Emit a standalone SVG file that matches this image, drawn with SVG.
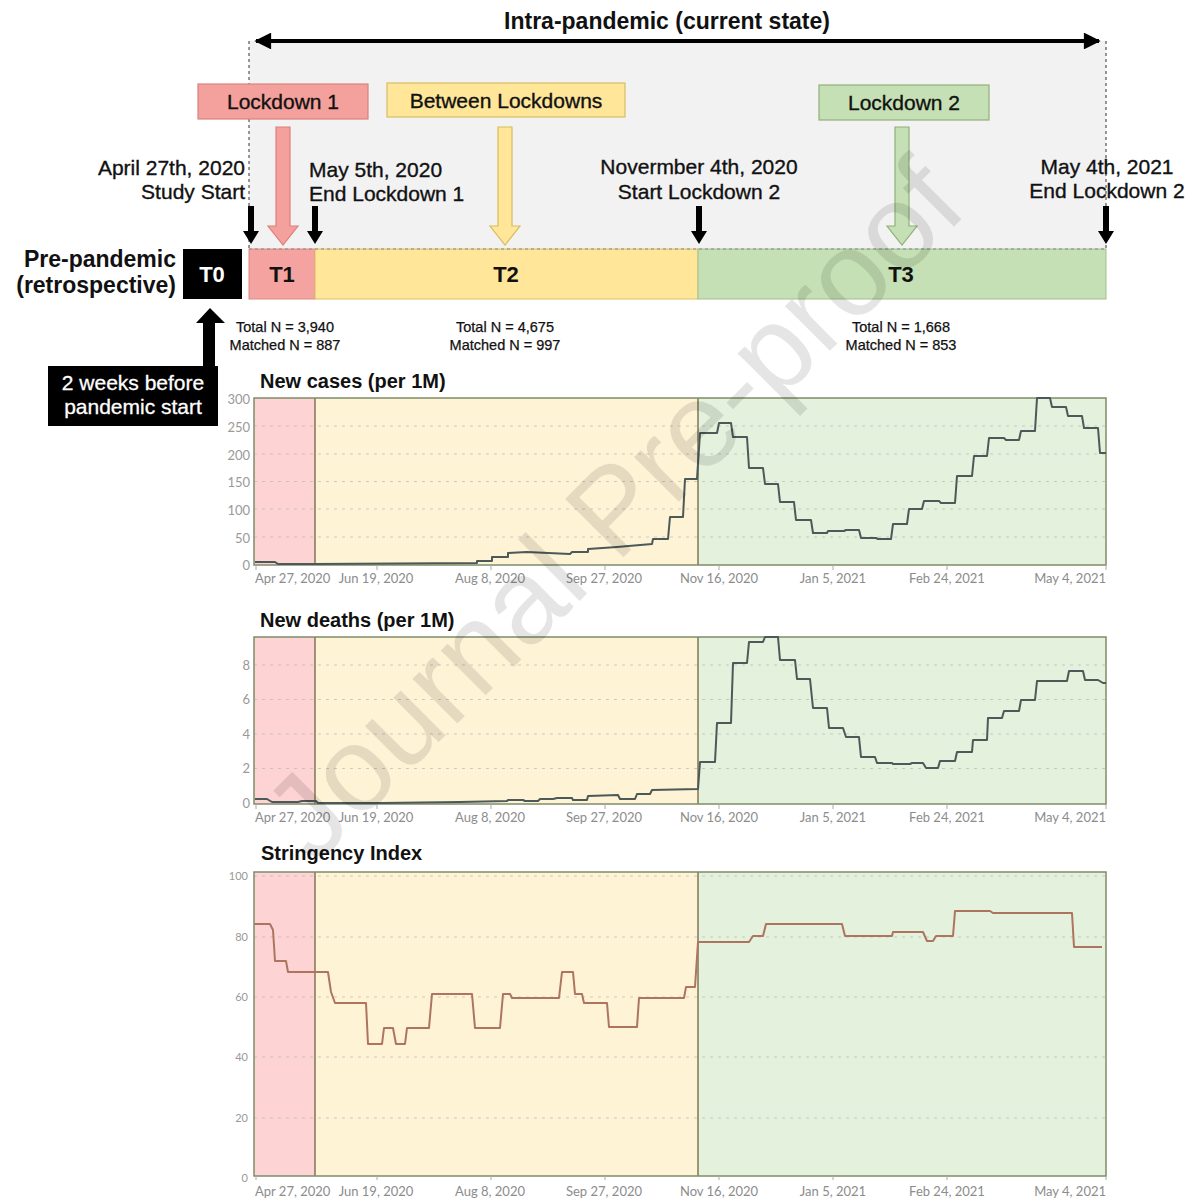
<svg xmlns="http://www.w3.org/2000/svg" width="1195" height="1198" viewBox="0 0 1195 1198">
<style>
  .t { font-family: "Liberation Sans", Arial, sans-serif; fill: #111; }
  .b { font-weight: bold; }
  .lbl { font-size: 21px; stroke: #111; stroke-width: 0.35px; }
  .n { font-size: 14.5px; stroke: #111; stroke-width: 0.25px; }
  .ax { font-family: Lato, "Liberation Sans", sans-serif; font-size: 13px; fill: #8c8c8c; }
  .ay { font-family: Lato, "Liberation Sans", sans-serif; font-size: 13px; fill: #999; text-anchor: end; }
  .ay2 { font-family: Lato, "Liberation Sans", sans-serif; font-size: 11px; fill: #999; text-anchor: end; }
  .grid { stroke: #b9b9b9; stroke-width: 1; stroke-dasharray: 3 5; opacity: 0.7; }
  .tick { stroke: #aaa; stroke-width: 1; }
  .pink { fill: #fdd3d4; }
  .yel { fill: #fff3d6; }
  .grn { fill: #e4f1dd; }
  .frame { fill: none; stroke: #7f8c68; stroke-width: 1.5; }
  .sep { stroke: #6e6440; stroke-width: 1.3; }
  .series { fill: none; stroke: #4b5959; stroke-width: 2; stroke-linejoin: round; }
  .str { fill: none; stroke: #ad7560; stroke-width: 2; stroke-linejoin: round; }
  .blk { fill: #000; }
  .wt { font-family: "Liberation Sans", Arial, sans-serif; fill: #fff; stroke: #fff; stroke-width: 0.3px; font-size: 21px; text-anchor: middle; }
</style>
<defs>
  <marker id="ah" viewBox="0 0 10 10" refX="9" refY="5" markerWidth="5" markerHeight="4.2" orient="auto-start-reverse" markerUnits="strokeWidth">
    <path d="M0,0 L10,5 L0,10 z" fill="#000"/>
  </marker>
</defs>
<rect width="1195" height="1198" fill="#fff"/>

<g id="intra-panel">
  <rect x="249" y="41" width="857" height="208" fill="#f2f2f2"/>
  <line x1="249" y1="41" x2="249" y2="249" stroke="#333" stroke-width="1" stroke-dasharray="3 3"/>
  <line x1="1106" y1="41" x2="1106" y2="249" stroke="#333" stroke-width="1" stroke-dasharray="3 3"/>
</g>

<g id="title">
  <text class="t b" x="667" y="29" font-size="23" text-anchor="middle">Intra-pandemic (current state)</text>
</g>

<g id="lockdown1-box">
  <rect x="198" y="84" width="170" height="35" fill="#f4a09c" stroke="#d9837f" stroke-width="1.2"/>
  <text class="t lbl" x="283" y="108.5" text-anchor="middle">Lockdown 1</text>
</g>
<g id="between-box">
  <rect x="387" y="83" width="238" height="34" fill="#ffe699" stroke="#d8bc63" stroke-width="1.2"/>
  <text class="t lbl" x="506" y="107.5" text-anchor="middle">Between Lockdowns</text>
</g>
<g id="lockdown2-box">
  <rect x="819" y="85" width="170" height="35" fill="#c5e0b4" stroke="#8fb07a" stroke-width="1.2"/>
  <text class="t lbl" x="904" y="110" text-anchor="middle">Lockdown 2</text>
</g>

<g id="date-labels">
  <text class="t lbl" x="245" y="175" text-anchor="end">April 27th, 2020</text>
  <text class="t lbl" x="245" y="199" text-anchor="end">Study Start</text>
  <text class="t lbl" x="309" y="177">May 5th, 2020</text>
  <text class="t lbl" x="309" y="201">End Lockdown 1</text>
  <text class="t lbl" x="699" y="174" text-anchor="middle">Novermber 4th, 2020</text>
  <text class="t lbl" x="699" y="199" text-anchor="middle">Start Lockdown 2</text>
  <text class="t lbl" x="1107" y="174" text-anchor="middle">May 4th, 2021</text>
  <text class="t lbl" x="1107" y="198" text-anchor="middle">End Lockdown 2</text>
</g>

<g id="timeline">
  <g id="T1">
    <rect x="249" y="249" width="66" height="50" fill="#f4a3a0" stroke="#dc8a86" stroke-width="1"/>
    <text class="t b" x="282" y="282" font-size="22" text-anchor="middle">T1</text>
  </g>
  <g id="T2">
    <rect x="315" y="249" width="383" height="50" fill="#ffe699" stroke="#dcc06a" stroke-width="1"/>
    <text class="t b" x="506" y="282" font-size="22" text-anchor="middle">T2</text>
  </g>
  <g id="T3">
    <rect x="698" y="249" width="408" height="50" fill="#c5e0b4" stroke="#a2c090" stroke-width="1"/>
    <text class="t b" x="901" y="282" font-size="22" text-anchor="middle">T3</text>
  </g>
  <line x1="249" y1="249" x2="1106" y2="249" stroke="#888" stroke-width="1" stroke-dasharray="3 3"/>
</g>

<g id="T0">
  <rect x="183" y="249" width="59" height="50" fill="#000"/>
  <text x="212" y="282" font-size="22" font-weight="bold" text-anchor="middle" fill="#fff" font-family="Liberation Sans, Arial, sans-serif">T0</text>
</g>
<g id="pre-pandemic-label">
  <text class="t b" x="176" y="267" font-size="23" text-anchor="end">Pre-pandemic</text>
  <text class="t b" x="176" y="293" font-size="23" text-anchor="end">(retrospective)</text>
</g>

<g id="two-weeks-box">
  <rect x="48" y="366" width="170" height="60" fill="#000"/>
  <text class="wt" x="133" y="390">2 weeks before</text>
  <text class="wt" x="133" y="414">pandemic start</text>
</g>

<g id="sample-sizes">
  <text class="t n" x="285" y="332" text-anchor="middle">Total N = 3,940</text>
  <text class="t n" x="285" y="350" text-anchor="middle">Matched N = 887</text>
  <text class="t n" x="505" y="332" text-anchor="middle">Total N = 4,675</text>
  <text class="t n" x="505" y="350" text-anchor="middle">Matched N = 997</text>
  <text class="t n" x="901" y="332" text-anchor="middle">Total N = 1,668</text>
  <text class="t n" x="901" y="350" text-anchor="middle">Matched N = 853</text>
</g>

<g id="connectors">
  <line x1="256" y1="41" x2="1099" y2="41" stroke="#000" stroke-width="4" marker-start="url(#ah)" marker-end="url(#ah)"/>
  <polygon points="276,127 290,127 290,226 298,226 283,245 268,226 276,226" fill="#f4a09c" stroke="#e07f7b" stroke-width="1.2"/>
  <polygon points="498,127 512,127 512,226 520,226 505,245 490,226 498,226" fill="#ffe699" stroke="#d9bb5c" stroke-width="1.2"/>
  <polygon points="895,127 909,127 909,226 917,226 902,245 887,226 895,226" fill="#c5e0b4" stroke="#8fb07a" stroke-width="1.2"/>
  <polygon class="blk" points="248,206 254,206 254,231 259,231 251,244 243,231 248,231"/>
  <polygon class="blk" points="312,206 318,206 318,231 323,231 315,244 307,231 312,231"/>
  <polygon class="blk" points="696,206 702,206 702,231 707,231 699,244 691,231 696,231"/>
  <polygon class="blk" points="1103,206 1109,206 1109,231 1114,231 1106,244 1098,231 1103,231"/>
  <polygon class="blk" points="210,308 225,323 215,323 215,367 203,367 203,323 196,323"/>
</g>

<g id="chart-cases">
  <text class="t b" x="260" y="388" font-size="20">New cases (per 1M)</text>
  <rect class="pink" x="254" y="398" width="61" height="167"/>
  <rect class="yel" x="315" y="398" width="383" height="167"/>
  <rect class="grn" x="698" y="398" width="408" height="167"/>
  <line class="grid" x1="254" y1="426" x2="1106" y2="426"/>
  <line class="grid" x1="254" y1="454" x2="1106" y2="454"/>
  <line class="grid" x1="254" y1="481.5" x2="1106" y2="481.5"/>
  <line class="grid" x1="254" y1="509" x2="1106" y2="509"/>
  <line class="grid" x1="254" y1="537" x2="1106" y2="537"/>
  <line class="sep" x1="315" y1="398" x2="315" y2="565"/>
  <line class="sep" x1="698" y1="398" x2="698" y2="565"/>
  <rect class="frame" x="254" y="398" width="852" height="167"/>
  <text class="ay" x="250" y="403.5">300</text>
  <text class="ay" x="250" y="431.5">250</text>
  <text class="ay" x="250" y="459.5">200</text>
  <text class="ay" x="250" y="486.5">150</text>
  <text class="ay" x="250" y="514.5">100</text>
  <text class="ay" x="250" y="542.5">50</text>
  <text class="ay" x="250" y="569.5">0</text>
  <path class="tick" d="M256,565v5M377,565v5M491,565v5M605,565v5M719,565v5M833,565v5M947,565v5M1106,565v5"/>
  <text class="ax" x="255" y="583">Apr 27, 2020</text>
  <text class="ax" x="376" y="583" text-anchor="middle">Jun 19, 2020</text>
  <text class="ax" x="490" y="583" text-anchor="middle">Aug 8, 2020</text>
  <text class="ax" x="604" y="583" text-anchor="middle">Sep 27, 2020</text>
  <text class="ax" x="719" y="583" text-anchor="middle">Nov 16, 2020</text>
  <text class="ax" x="833" y="583" text-anchor="middle">Jan 5, 2021</text>
  <text class="ax" x="947" y="583" text-anchor="middle">Feb 24, 2021</text>
  <text class="ax" x="1106" y="583" text-anchor="end">May 4, 2021</text>
  <path class="series" d="M255,562 L275,562 L278,564 L315,564 L477,563 L477,561 L492,561 L492,557 L508,557 L508,553 L527,552 L570,554 L572,552 L588,552 L588,549 L617,547 L652,544 L653,539 L668,539 L670,517 L683,517 L685,479 L697,479 L700,433 L717,433 L719,423 L731,423 L733,437 L747,437 L749,468 L763,468 L765,484 L778,484 L780,502 L794,502 L796,520 L811,520 L813,533 L827,533 L828,531 L844,531 L846,530 L859,530 L861,538 L876,538 L878,539 L891,539 L893,524 L907,524 L909,509 L922,509 L924,501 L939,501 L941,503 L955,503 L957,476 L972,476 L974,456 L987,456 L989,438 L1004,438 L1006,440 L1019,440 L1021,431 L1035,431 L1037,398 L1050,398 L1052,407 L1066,407 L1068,416 L1082,416 L1084,428 L1098,428 L1100,453 L1106,453"/>
</g>

<g id="chart-deaths">
  <text class="t b" x="260" y="627" font-size="20">New deaths (per 1M)</text>
  <rect class="pink" x="254" y="637" width="61" height="167"/>
  <rect class="yel" x="315" y="637" width="383" height="167"/>
  <rect class="grn" x="698" y="637" width="408" height="167"/>
  <line class="grid" x1="254" y1="665" x2="1106" y2="665"/>
  <line class="grid" x1="254" y1="699.5" x2="1106" y2="699.5"/>
  <line class="grid" x1="254" y1="734" x2="1106" y2="734"/>
  <line class="grid" x1="254" y1="768.5" x2="1106" y2="768.5"/>
  <line class="sep" x1="315" y1="637" x2="315" y2="804"/>
  <line class="sep" x1="698" y1="637" x2="698" y2="804"/>
  <rect class="frame" x="254" y="637" width="852" height="167"/>
  <text class="ay" x="250" y="669.5">8</text>
  <text class="ay" x="250" y="704">6</text>
  <text class="ay" x="250" y="738.5">4</text>
  <text class="ay" x="250" y="773">2</text>
  <text class="ay" x="250" y="807.5">0</text>
  <path class="tick" d="M256,804v5M377,804v5M491,804v5M605,804v5M719,804v5M833,804v5M947,804v5M1106,804v5"/>
  <text class="ax" x="255" y="822">Apr 27, 2020</text>
  <text class="ax" x="376" y="822" text-anchor="middle">Jun 19, 2020</text>
  <text class="ax" x="490" y="822" text-anchor="middle">Aug 8, 2020</text>
  <text class="ax" x="604" y="822" text-anchor="middle">Sep 27, 2020</text>
  <text class="ax" x="719" y="822" text-anchor="middle">Nov 16, 2020</text>
  <text class="ax" x="833" y="822" text-anchor="middle">Jan 5, 2021</text>
  <text class="ax" x="947" y="822" text-anchor="middle">Feb 24, 2021</text>
  <text class="ax" x="1106" y="822" text-anchor="end">May 4, 2021</text>
  <path class="series" d="M255,799 L267,799 L272,802 L298,802 L302,801 L316,801 L318,803 L383,803 L460,802 L507,801 L508,800 L523,800 L525,801 L538,801 L540,799 L553,799 L557,798 L572,798 L573,800 L587,800 L588,796 L618,795 L620,799 L635,799 L637,794 L650,794 L652,790 L698,789 L700,762 L715,762 L717,723 L731,723 L733,663 L747,663 L749,642 L763,642 L765,637 L778,637 L780,660 L795,660 L797,679 L810,679 L813,708 L827,708 L829,728 L843,728 L846,737 L859,737 L861,757 L875,757 L877,763 L892,763 L893,764 L910,764 L912,763 L923,763 L926,768 L938,768 L940,761 L955,761 L957,752 L972,752 L973,740 L987,740 L988,718 L1002,718 L1004,711 L1019,711 L1021,700 L1035,700 L1037,681 L1067,681 L1069,671 L1083,671 L1085,680 L1098,680 L1103,683 L1106,683"/>
</g>

<g id="chart-stringency">
  <text class="t b" x="261" y="860" font-size="20">Stringency Index</text>
  <rect class="pink" x="254" y="872" width="61" height="304"/>
  <rect class="yel" x="315" y="872" width="383" height="304"/>
  <rect class="grn" x="698" y="872" width="408" height="304"/>
  <line class="grid" x1="254" y1="876" x2="1106" y2="876"/>
  <line class="grid" x1="254" y1="937" x2="1106" y2="937"/>
  <line class="grid" x1="254" y1="997" x2="1106" y2="997"/>
  <line class="grid" x1="254" y1="1057" x2="1106" y2="1057"/>
  <line class="grid" x1="254" y1="1118" x2="1106" y2="1118"/>
  <line class="sep" x1="315" y1="872" x2="315" y2="1176"/>
  <line class="sep" x1="698" y1="872" x2="698" y2="1176"/>
  <rect class="frame" x="254" y="872" width="852" height="304"/>
  <text class="ay2" x="248" y="880">100</text>
  <text class="ay2" x="248" y="941">80</text>
  <text class="ay2" x="248" y="1001">60</text>
  <text class="ay2" x="248" y="1061">40</text>
  <text class="ay2" x="248" y="1122">20</text>
  <text class="ay2" x="248" y="1182">0</text>
  <path class="tick" d="M256,1176v4M377,1176v4M491,1176v4M605,1176v4M719,1176v4M833,1176v4M947,1176v4M1106,1176v4"/>
  <text class="ax" x="255" y="1196">Apr 27, 2020</text>
  <text class="ax" x="376" y="1196" text-anchor="middle">Jun 19, 2020</text>
  <text class="ax" x="490" y="1196" text-anchor="middle">Aug 8, 2020</text>
  <text class="ax" x="604" y="1196" text-anchor="middle">Sep 27, 2020</text>
  <text class="ax" x="719" y="1196" text-anchor="middle">Nov 16, 2020</text>
  <text class="ax" x="833" y="1196" text-anchor="middle">Jan 5, 2021</text>
  <text class="ax" x="947" y="1196" text-anchor="middle">Feb 24, 2021</text>
  <text class="ax" x="1106" y="1196" text-anchor="end">May 4, 2021</text>
  <path class="str" d="M254,924 L270,924 L273,930 L275,961 L286,961 L288,972 L328,972 L331,992 L335,1003 L366,1003 L368,1044 L382,1044 L384,1028 L393,1028 L396,1044 L405,1044 L407,1028 L429,1028 L432,994 L472,994 L475,1028 L500,1028 L503,994 L510,994 L512,998 L559,998 L562,972 L573,972 L575,994 L582,994 L584,1003 L607,1003 L609,1027 L637,1027 L639,998 L684,998 L686,987 L695,987 L698,942 L749,942 L753,936 L763,936 L766,924 L842,924 L845,936 L892,936 L893,932 L923,932 L927,941 L933,941 L936,936 L953,936 L955,911 L990,911 L993,913 L1072,913 L1074,947 L1102,947"/>
</g>

<g id="watermark">
  <text transform="translate(612,508) rotate(-45)" x="0" y="43" font-family="Liberation Sans, Arial, sans-serif" font-size="120" text-anchor="middle" fill="#000" fill-opacity="0.1">Journal Pre-proof</text>
</g>
</svg>
